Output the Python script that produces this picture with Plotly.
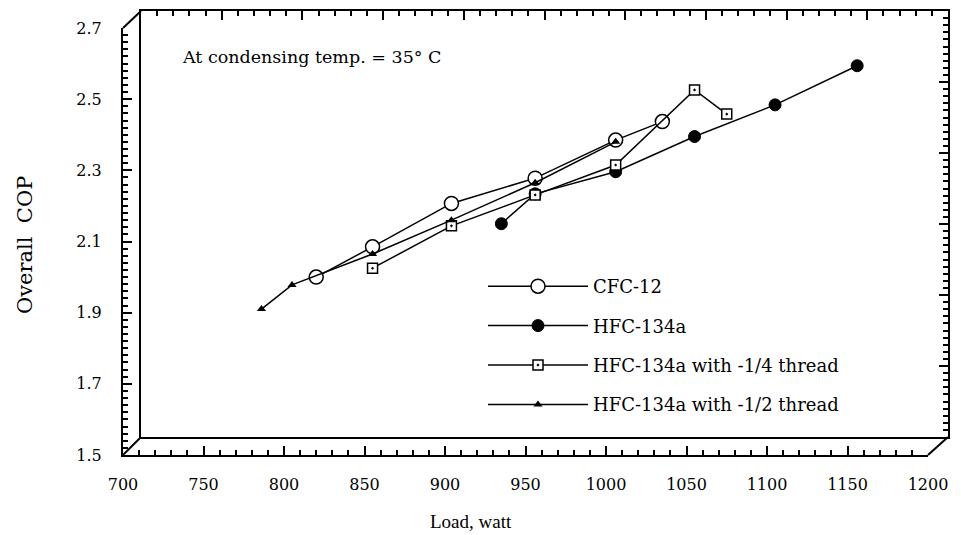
import plotly.graph_objects as go

# ---- data ----
cfc12_load = [820, 855, 904, 956, 1006, 1035]
cfc12_cop = [2.00, 2.085, 2.207, 2.278, 2.385, 2.437]

hfc_load = [935, 956, 1006, 1055, 1105, 1156]
hfc_cop = [2.15, 2.234, 2.296, 2.395, 2.484, 2.594]

hfc14_load = [855, 904, 956, 1006, 1055, 1075]
hfc14_cop = [2.025, 2.144, 2.231, 2.315, 2.526, 2.458]

hfc12_load = [786, 805, 855, 904, 956, 1006]
hfc12_cop = [1.91, 1.978, 2.065, 2.16, 2.265, 2.38]

series_names = ["CFC-12", "HFC-134a", "HFC-134a with -1/4 thread", "HFC-134a with -1/2 thread"]
x_ticks = [700, 750, 800, 850, 900, 950, 1000, 1050, 1100, 1150, 1200]
y_ticks = [1.5, 1.7, 1.9, 2.1, 2.3, 2.5, 2.7]

W, H = 961, 535
L, R, T, B = 123, 948, 11, 455
pw, ph = R - L, B - T
back_right = 928
back_top = 28
front_left = 141
front_bottom = 437

def px(x):
    return (x - L) / pw

def py(y):
    return (B - y) / ph

fig = go.Figure()
serif = "DejaVu Serif"
line = dict(color="black", width=1.5)

fig.add_trace(go.Scatter(x=cfc12_load, y=cfc12_cop, mode="lines+markers", name=series_names[0],
                         line=line, legendgroup="a",
                         marker=dict(symbol="circle", size=14, color="white", line=dict(color="black", width=1.5))))
fig.add_trace(go.Scatter(x=hfc_load, y=hfc_cop, mode="lines+markers", name=series_names[1],
                         line=line, legendgroup="b",
                         marker=dict(symbol="circle", size=12, color="black", line=dict(color="black", width=1))))
fig.add_trace(go.Scatter(x=hfc14_load, y=hfc14_cop, mode="lines+markers", name=series_names[2],
                         line=line, legendgroup="c",
                         marker=dict(symbol="square-dot", size=10, color="white", line=dict(color="black", width=1.5))))
fig.add_trace(go.Scatter(x=hfc12_load, y=hfc12_cop, mode="lines+markers", name=series_names[3],
                         line=line, legendgroup="d",
                         marker=dict(symbol="triangle-up", size=8, color="black")))
fig.add_trace(go.Scatter(x=[None], y=[None], xaxis="x2", yaxis="y2", showlegend=False, hoverinfo="skip"))
fig.add_trace(go.Scatter(x=[None], y=[None], xaxis="x3", yaxis="y3", showlegend=False, hoverinfo="skip"))

tickfont = dict(family="DejaVu Serif", size=16, color="black")

def xmajor(**kw):
    d = dict(range=[700, 1200], tickmode="array", tickvals=x_ticks, ticktext=[str(v) for v in x_ticks],
             ticks="inside", ticklen=9, tickwidth=2, tickcolor="black",
             minor=dict(tickmode="linear", tick0=700, dtick=10, ticks="inside", ticklen=5,
                        tickcolor="black", tickwidth=1.6, showgrid=False),
             showgrid=False, zeroline=False, linecolor="black", linewidth=2, showline=True)
    d.update(kw)
    return d

def ymajor(**kw):
    d = dict(range=[1.5, 2.7], tickmode="array", tickvals=y_ticks, ticktext=[f"{v:.1f}" for v in y_ticks],
             ticks="inside", ticklen=9, tickwidth=2, tickcolor="black",
             minor=dict(tickmode="linear", tick0=1.5, dtick=0.02, ticks="inside", ticklen=5,
                        tickcolor="black", tickwidth=1.6, showgrid=False),
             showgrid=False, zeroline=False, linecolor="black", linewidth=2, showline=True)
    d.update(kw)
    return d

fig.update_layout(
    width=W, height=H,
    margin=dict(l=L, r=W - R, t=T, b=H - B, autoexpand=False),
    paper_bgcolor="white", plot_bgcolor="rgba(0,0,0,0)",
    showlegend=True,
    # back axes: labels
    xaxis=xmajor(domain=[0, px(back_right)], anchor="y", tickfont=tickfont, ticklabelstandoff=14,
                 ticks="", minor=dict(ticks="")),
    yaxis=ymajor(domain=[0, py(back_top)], anchor="x", tickfont=tickfont, ticklabelstandoff=16,
                 ticks="", minor=dict(ticks="")),
    # back axes: ticks
    xaxis3=xmajor(overlaying="x", anchor="y3", side="bottom", showticklabels=False),
    yaxis3=ymajor(overlaying="y", anchor="x3", side="left", showticklabels=False),
    # front frame
    xaxis2=xmajor(domain=[px(front_left), 1], anchor="y2", side="top", showticklabels=False, mirror=True),
    yaxis2=ymajor(domain=[py(front_bottom), 1], anchor="x2", side="right", showticklabels=False, mirror=True),
    legend=dict(x=px(483), y=py(268), xanchor="left", yanchor="top",
                bgcolor="rgba(0,0,0,0)", borderwidth=0,
                font=dict(family=serif, size=18, color="black"),
                itemwidth=100, tracegroupgap=13),
)

# diagonal connectors of the 3D frame
for (x0, y0, x1, y1) in [
    (0, py(B), px(front_left), py(front_bottom)),
    (0, py(back_top), px(front_left), 1),
    (px(back_right), 0, 1, py(front_bottom)),
]:
    fig.add_shape(type="line", xref="paper", yref="paper", x0=x0, y0=y0, x1=x1, y1=y1,
                  line=dict(color="black", width=2))

fig.add_annotation(text="At condensing temp. = 35° C", xref="paper", yref="paper",
                   x=px(180), y=py(57), xanchor="left", yanchor="middle", showarrow=False,
                   font=dict(family=serif, size=17.5, color="black"))
fig.add_annotation(text="Overall  COP", xref="paper", yref="paper",
                   x=px(25), y=py(245), xanchor="center", yanchor="middle", showarrow=False,
                   textangle=-90, font=dict(family=serif, size=21, color="black"))
fig.add_annotation(text="Load, watt", xref="paper", yref="paper",
                   x=px(471), y=py(521), xanchor="center", yanchor="middle", showarrow=False,
                   font=dict(family="Liberation Serif", size=19, color="black"))

fig.write_html("out.html")
